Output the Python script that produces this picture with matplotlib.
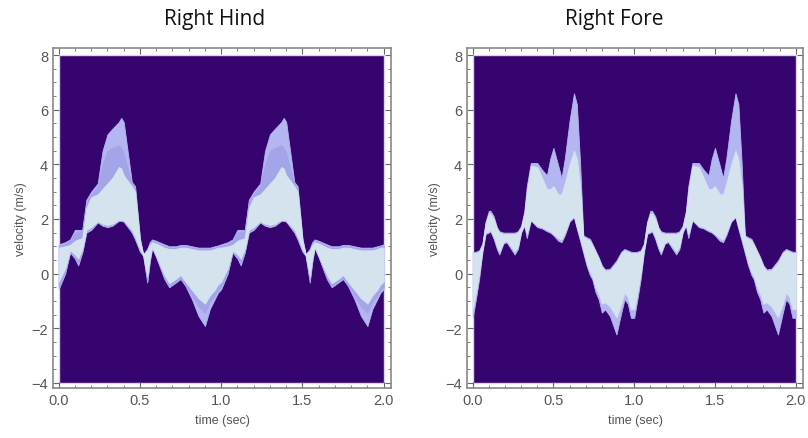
import numpy as np
import matplotlib
matplotlib.use("Agg")
import matplotlib.pyplot as plt
from matplotlib.patches import Rectangle
from matplotlib.ticker import MultipleLocator

# one gait cycle (1 sec); the chart shows two identical cycles
t_hind = [0.0, 0.04, 0.07, 0.1, 0.12, 0.145, 0.17, 0.2, 0.24, 0.27, 0.3, 0.33, 0.37, 0.385,
          0.4, 0.45, 0.47, 0.5, 0.52, 0.545, 0.56, 0.575, 0.6, 0.65, 0.68, 0.72, 0.75, 0.78,
          0.82, 0.86, 0.9, 0.93, 0.96, 0.98]
upper_hind = [1.07, 1.15, 1.25, 1.6, 1.6, 1.6, 2.7, 3.0, 3.3, 4.5, 5.1, 5.3, 5.55, 5.7,
              5.55, 3.35, 3.2, 1.3, 0.7, 0.9, 1.15, 1.25, 1.2, 1.07, 1.0, 1.0, 1.05, 1.05,
              1.0, 0.95, 0.95, 0.95, 1.0, 1.03]
lower_hind = [-0.57, 0.0, 0.77, 0.55, 0.3, 0.77, 1.5, 1.6, 1.87, 1.75, 1.7, 1.75, 1.93, 1.93,
              1.9, 1.5, 1.25, 0.8, 0.65, -0.33, 0.4, 0.95, 0.6, -0.2, -0.5, -0.33, -0.2, -0.45,
              -0.94, -1.55, -1.92, -1.3, -0.94, -0.7]
mid_upper_hind = [1.0, 1.1, 1.2, 1.5, 1.55, 1.55, 2.6, 2.9, 3.2, 4.0, 4.5, 4.6, 4.7, 4.6,
                  4.4, 3.3, 3.1, 1.25, 0.7, 0.9, 1.1, 1.2, 1.15, 1.0, 0.95, 0.95, 1.0, 1.0,
                  0.95, 0.9, 0.9, 0.9, 0.95, 1.0]
mid_lower_hind = [-0.5, 0.05, 0.8, 0.6, 0.4, 0.8, 1.55, 1.65, 1.9, 1.8, 1.75, 1.8, 1.95, 1.95,
                  1.92, 1.55, 1.3, 0.85, 0.67, -0.25, 0.45, 0.95, 0.6, -0.15, -0.45, -0.3, -0.15, -0.4,
                  -0.8, -1.2, -1.45, -1.05, -0.8, -0.6]
core_upper_hind = [0.95, 1.0, 1.05, 1.2, 1.25, 1.3, 2.4, 2.8, 2.9, 3.1, 3.3, 3.5, 3.9, 3.85,
                   3.6, 3.2, 3.0, 1.2, 0.7, 0.85, 1.05, 1.15, 1.1, 0.95, 0.9, 0.9, 0.95, 0.95,
                   0.9, 0.85, 0.85, 0.85, 0.9, 0.95]
core_lower_hind = [-0.3, 0.2, 0.85, 0.7, 0.55, 0.9, 1.6, 1.7, 1.92, 1.82, 1.78, 1.82, 1.97, 1.97,
                   1.94, 1.6, 1.35, 0.9, 0.68, -0.1, 0.55, 0.97, 0.65, -0.05, -0.35, -0.2, -0.05, -0.3,
                   -0.6, -0.9, -1.1, -0.8, -0.6, -0.4]

t_fore = [0.0, 0.02, 0.04, 0.06, 0.08, 0.1, 0.11, 0.13, 0.15, 0.165, 0.19, 0.21, 0.23, 0.26,
          0.28, 0.3, 0.32, 0.335, 0.36, 0.4, 0.43, 0.46, 0.48, 0.5, 0.53, 0.55, 0.57, 0.6,
          0.627, 0.645, 0.665, 0.685, 0.705, 0.726, 0.74, 0.76, 0.78, 0.8, 0.82, 0.85, 0.89,
          0.92, 0.94, 0.96, 0.98]
upper_fore = [0.79, 0.8, 0.85, 1.1, 1.9, 2.3, 2.3, 2.1, 1.7, 1.55, 1.5, 1.5, 1.5, 1.5,
              1.55, 1.75, 2.3, 3.2, 4.05, 4.05, 3.8, 3.6, 4.2, 4.6, 3.95, 3.5, 4.2, 5.6,
              6.6, 6.2, 4.06, 1.4, 1.33, 1.27, 1.1, 0.85, 0.6, 0.3, 0.15, 0.18, 0.48,
              0.8, 0.9, 0.85, 0.8]
lower_fore = [-1.62, -0.94, -0.2, 0.77, 1.45, 1.5, 1.55, 1.27, 0.9, 0.7, 1.1, 1.15, 0.97, 0.7,
              0.9, 1.5, 1.75, 1.3, 1.95, 1.7, 1.65, 1.55, 1.5, 1.4, 1.2, 1.15, 1.4, 1.9,
              2.06, 1.64, 1.2, 0.75, 0.3, -0.06, -0.2, -0.67, -0.94, -1.43, -1.31, -1.56, -2.23,
              -1.43, -0.94, -1.1, -1.62]
core_upper_fore = [0.75, 0.76, 0.8, 1.05, 1.85, 2.2, 2.2, 2.0, 1.65, 1.5, 1.45, 1.45, 1.45, 1.45,
                   1.5, 1.7, 2.2, 3.0, 3.95, 3.9, 3.5, 3.1, 3.1, 3.2, 2.9, 2.9, 3.3, 4.0,
                   4.5, 4.2, 3.2, 1.35, 1.28, 1.2, 1.05, 0.8, 0.55, 0.25, 0.1, 0.12, 0.4,
                   0.75, 0.85, 0.8, 0.75]
core_lower_fore = [-1.3, -0.7, 0.0, 0.85, 1.5, 1.55, 1.6, 1.35, 1.0, 0.8, 1.15, 1.2, 1.05, 0.8,
                   1.0, 1.55, 1.8, 1.45, 1.97, 1.75, 1.7, 1.6, 1.55, 1.45, 1.3, 1.25, 1.5, 1.95,
                   2.1, 1.7, 1.3, 0.85, 0.4, 0.05, -0.1, -0.5, -0.75, -1.1, -1.05, -1.2, -1.6,
                   -1.1, -0.7, -0.85, -1.3]

titles = ["Right Hind", "Right Fore"]
x_label = "time (sec)"
y_label = "velocity (m/s)"

bg_color = "#35046e"
outer_color = "#b4b6f1"
mid_color = "#a4a4e9"
core_color = "#d5e3ef"
text_grey = "#555555"


def two_cycles(t, v):
    """repeat the read-off cycle for the second second of the plot"""
    t = np.asarray(t)
    v = np.asarray(v)
    return np.concatenate([t, t + 1.0, [2.0]]), np.concatenate([v, v, [v[0]]])


def style_axes(ax):
    ax.set_xlim(-0.035, 2.045)
    ax.set_ylim(-4.19, 8.26)
    ax.add_patch(Rectangle((0, -4), 2, 12, facecolor=bg_color,
                           edgecolor="#d8d4f4", linewidth=1.0, zorder=0))
    ax.xaxis.set_major_locator(MultipleLocator(0.5))
    ax.xaxis.set_minor_locator(MultipleLocator(0.1))
    ax.yaxis.set_major_locator(MultipleLocator(2))
    ax.yaxis.set_minor_locator(MultipleLocator(0.5))
    ax.xaxis.set_major_formatter(lambda v, p: f"{v:.1f}")
    ax.yaxis.set_major_formatter(lambda v, p: f"{v:.0f}".replace("-", "\u2212"))
    ax.tick_params(which="both", direction="in", top=True, right=True,
                   color="#666666", labelcolor=text_grey, labelsize=10.5)
    ax.tick_params(which="major", length=4, width=0.8)
    ax.tick_params(which="minor", length=2, width=0.6)
    for s in ax.spines.values():
        s.set_color("#888888")
        s.set_linewidth(1.2)
    ax.set_xlabel(x_label, color=text_grey, fontsize=9, labelpad=5)
    ax.set_ylabel(y_label, color=text_grey, fontsize=9, labelpad=3)


def draw_band(ax, t, upper, lower, color):
    tt, up = two_cycles(t, upper)
    _, lo = two_cycles(t, lower)
    ax.fill_between(tt, lo, up, color=color, linewidth=0.6, edgecolor=color, zorder=2)


def main():
    plt.rcParams["font.family"] = ["Liberation Sans", "DejaVu Sans"]
    fig = plt.figure(figsize=(8.08, 4.39), dpi=100)

    ax1 = fig.add_axes([53 / 808, 1 - 389 / 439, 338 / 808, 340 / 439])
    ax2 = fig.add_axes([467 / 808, 1 - 389 / 439, 336 / 808, 340 / 439])

    style_axes(ax1)
    draw_band(ax1, t_hind, upper_hind, lower_hind, outer_color)
    draw_band(ax1, t_hind, mid_upper_hind, mid_lower_hind, mid_color)
    draw_band(ax1, t_hind, core_upper_hind, core_lower_hind, core_color)

    style_axes(ax2)
    draw_band(ax2, t_fore, upper_fore, lower_fore, outer_color)
    draw_band(ax2, t_fore, core_upper_fore, core_lower_fore, core_color)

    fig.text(215 / 808, 1 - 19 / 439, titles[0], ha="center", va="center",
             fontsize=15, family="Open Sans", color="#111111")
    fig.text(614 / 808, 1 - 19 / 439, titles[1], ha="center", va="center",
             fontsize=15, family="Open Sans", color="#111111")

    fig.savefig("out.png", dpi=100)


if __name__ == "__main__":
    main()
